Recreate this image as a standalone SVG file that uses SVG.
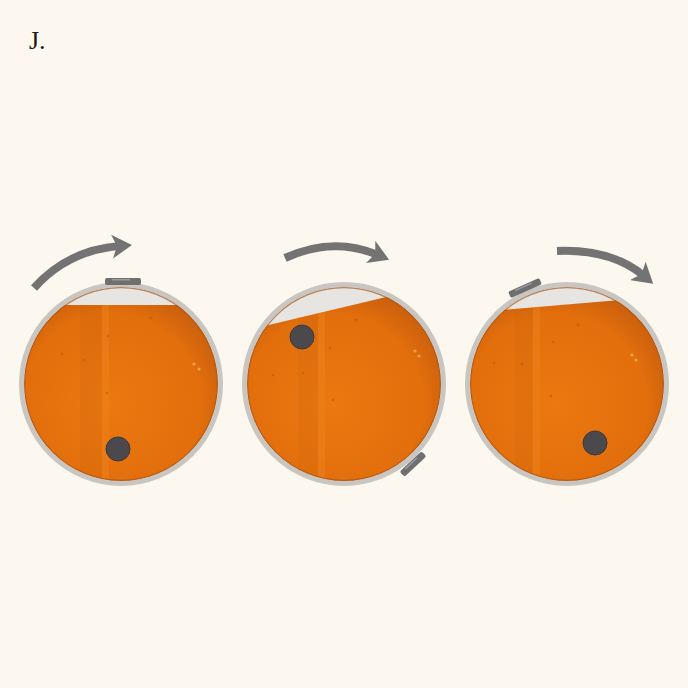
<svg xmlns="http://www.w3.org/2000/svg" width="688" height="688" viewBox="0 0 688 688">
  <style>
    .ring { fill: none; stroke: #c9c6c1; stroke-width: 5; }
    .air { fill: #e6e5e1; }
    .liquid { fill: url(#orange); }
    .rim { fill: none; stroke: #a9551a; stroke-width: 1.5; opacity: 0.7; }
    .stripe { fill: #f28a22; opacity: 0.35; }
    .shade { fill: #b85808; opacity: 0.12; }
    .speck { fill: #b9560c; opacity: 0.55; }
    .glint { fill: #f5b060; opacity: 0.8; }
    .ball { fill: #4b494b; stroke: #3a3a3e; stroke-width: 1; }
    .tab { fill: #6f6f70; }
    .tabhi { fill: #9a9a9a; }
    .arrow { fill: none; stroke: #737373; stroke-width: 8; stroke-linecap: butt; }
    .label { font-family: "Liberation Serif", "Times New Roman", serif; font-size: 26px; fill: #1a1a1a; }
  </style>
  <defs>
    <radialGradient id="orange" cx="0.45" cy="0.6" r="0.6">
      <stop offset="0" stop-color="#eb7810"/>
      <stop offset="0.75" stop-color="#e26e0c"/>
      <stop offset="1" stop-color="#c85e0e"/>
    </radialGradient>
    <clipPath id="clip1"><circle cx="121" cy="384" r="97"/></clipPath>
    <clipPath id="clip2"><circle cx="344" cy="384" r="97"/></clipPath>
    <clipPath id="clip3"><circle cx="567" cy="384" r="97"/></clipPath>
    <clipPath id="fill1"><polygon points="20,305 222,305 222,485 20,485"/></clipPath>
    <clipPath id="fill2"><polygon points="243,331 445,283 445,485 243,485"/></clipPath>
    <clipPath id="fill3"><polygon points="466,313 668,296 668,485 466,485"/></clipPath>
    <!-- barbed head shared by the three rotation arrows -->
    <marker id="head" markerUnits="userSpaceOnUse" viewBox="0 0 20 24" markerWidth="20" markerHeight="24" refX="8" refY="12" orient="auto">
      <path d="M0,0 L20,12 L0,24 L5,12 z" fill="#737373"/>
    </marker>
  </defs>

  <rect width="688" height="688" fill="#fcf8f0"/>

  <text class="label" x="29" y="49">J.</text>

  <!-- rotation arrows -->
  <g id="connectors">
    <path class="arrow" d="M34,288 Q68,250 120,246" marker-end="url(#head)"/>
    <path class="arrow" d="M285,258 Q333,236 378,255" marker-end="url(#head)"/>
    <path class="arrow" d="M557,251 Q612,249 644,276" marker-end="url(#head)"/>
  </g>

  <!-- drum 1: level, ball at bottom -->
  <g id="drum1">
    <g clip-path="url(#clip1)">
      <rect class="air" x="20" y="283" width="202" height="202"/>
      <g clip-path="url(#fill1)">
        <rect class="liquid" x="20" y="283" width="202" height="202"/>
        <rect class="shade" x="80" y="283" width="22" height="202"/>
        <rect class="stripe" x="102" y="283" width="7" height="202"/>
        <circle class="speck" cx="151" cy="318" r="1.5"/>
        <circle class="speck" cx="62" cy="354" r="1.3"/>
        <circle class="speck" cx="84" cy="360" r="1.3"/>
        <circle class="speck" cx="107" cy="393" r="1.3"/>
        <circle class="speck" cx="108" cy="336" r="1.3"/>
        <circle class="glint" cx="194" cy="364" r="1.6"/>
        <circle class="glint" cx="199" cy="369" r="1.6"/>
      </g>
    </g>
    <circle class="rim" cx="121" cy="384" r="96.5"/>
    <circle class="ring" cx="121" cy="384" r="99.5"/>
    <circle class="ball" cx="118" cy="449" r="12"/>
    <rect class="tab" x="105" y="278" width="36" height="7" rx="2"/>
    <rect class="tabhi" x="112" y="279" width="18" height="1.5"/>
  </g>

  <!-- drum 2: tilted, ball near upper left -->
  <g id="drum2">
    <g clip-path="url(#clip2)">
      <rect class="air" x="243" y="283" width="202" height="202"/>
      <g clip-path="url(#fill2)">
        <rect class="liquid" x="243" y="283" width="202" height="202"/>
        <rect class="shade" x="298" y="283" width="20" height="202"/>
        <rect class="stripe" x="318" y="283" width="7" height="202"/>
        <circle class="speck" cx="356" cy="320" r="1.5"/>
        <circle class="speck" cx="273" cy="375" r="1.3"/>
        <circle class="speck" cx="303" cy="373" r="1.3"/>
        <circle class="speck" cx="333" cy="400" r="1.3"/>
        <circle class="speck" cx="330" cy="348" r="1.3"/>
        <circle class="glint" cx="415" cy="351" r="1.6"/>
        <circle class="glint" cx="419" cy="356" r="1.6"/>
      </g>
    </g>
    <circle class="rim" cx="344" cy="384" r="96.5"/>
    <circle class="ring" cx="344" cy="384" r="99.5"/>
    <circle class="ball" cx="302" cy="337" r="12"/>
    <g transform="translate(413,464) rotate(-43)">
      <rect class="tab" x="-15" y="-3.5" width="30" height="7" rx="2"/>
      <rect class="tabhi" x="-9" y="-2.5" width="16" height="1.5"/>
    </g>
  </g>

  <!-- drum 3: tilted, ball at lower right -->
  <g id="drum3">
    <g clip-path="url(#clip3)">
      <rect class="air" x="466" y="283" width="202" height="202"/>
      <g clip-path="url(#fill3)">
        <rect class="liquid" x="466" y="283" width="202" height="202"/>
        <rect class="shade" x="515" y="283" width="18" height="202"/>
        <rect class="stripe" x="533" y="283" width="7" height="202"/>
        <circle class="speck" cx="578" cy="325" r="1.5"/>
        <circle class="speck" cx="494" cy="363" r="1.3"/>
        <circle class="speck" cx="522" cy="364" r="1.3"/>
        <circle class="speck" cx="551" cy="396" r="1.3"/>
        <circle class="speck" cx="553" cy="342" r="1.3"/>
        <circle class="glint" cx="632" cy="355" r="1.6"/>
        <circle class="glint" cx="636" cy="360" r="1.6"/>
      </g>
    </g>
    <circle class="rim" cx="567" cy="384" r="96.5"/>
    <circle class="ring" cx="567" cy="384" r="99.5"/>
    <circle class="ball" cx="595" cy="443" r="12"/>
    <g transform="translate(525,288) rotate(-24)">
      <rect class="tab" x="-17" y="-3.5" width="34" height="7" rx="2"/>
      <rect class="tabhi" x="-10" y="-2.5" width="18" height="1.5"/>
    </g>
  </g>
</svg>
